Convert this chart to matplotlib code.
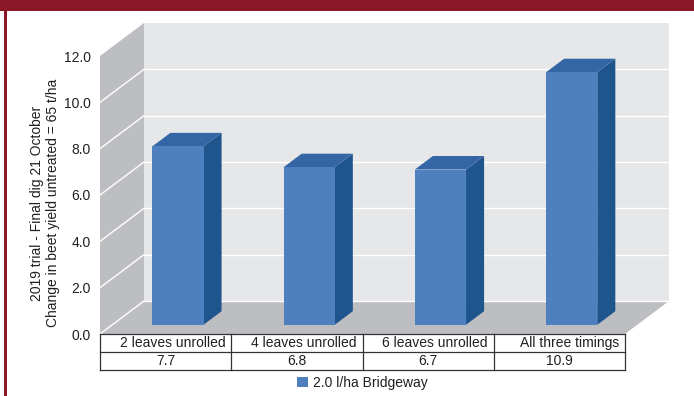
import numpy as np
import matplotlib.pyplot as plt
from matplotlib.patches import Polygon, Rectangle, Patch
from matplotlib.transforms import blended_transform_factory

plt.rcParams["font.family"] = ["Liberation Sans", "DejaVu Sans"]

categories = ["2 leaves unrolled", "4 leaves unrolled", "6 leaves unrolled", "All three timings"]
yield_change = [7.7, 6.8, 6.7, 10.9]
series_name = "2.0 l/ha Bridgeway"
y_ticks = [0, 2, 4, 6, 8, 10, 12]
y_label = "2019 trial - Final dig 21 October\nChange in beet yield untreated = 65 t/ha"

BACK_WALL = "#e6e7e8"
SIDE_WALL = "#bdbec1"
BAR_FRONT = "#4e80c0"
BAR_TOP = "#3465a5"
BAR_SIDE = "#1f558d"
FRAME_RED = "#8b1626"
TEXT = "#231f20"

W, H = 694, 396
fig = plt.figure(figsize=(W / 100, H / 100), dpi=100)

# front plane of the 3-D box, in pixels
left, right, bottom, top = 100, 625, 334, 56
ax = fig.add_axes([left / W, 1 - bottom / H, (right - left) / W, (bottom - top) / H])
ax.set_xlim(-0.5, len(categories) - 0.5)
ax.set_ylim(0, 12)
ax.patch.set_visible(False)
for s in ax.spines.values():
    s.set_visible(False)

# depth offset of the box (44 px right, 33 px up) in data units
px_x = (right - left) / len(categories)
px_y = (bottom - top) / 12
DX = 44 / px_x
DY = 33 / px_y


def proj(x, y, d):
    return (x + d * DX, y + d * DY)


def face(pts, color, z):
    ax.add_patch(Polygon([proj(*p) for p in pts], closed=True, facecolor=color,
                         edgecolor="none", clip_on=False, zorder=z))


x0, x1 = -0.5, len(categories) - 0.5
ymax = y_ticks[-1]

# walls and floor
face([(x0, 0, 1), (x1, 0, 1), (x1, ymax, 1), (x0, ymax, 1)], BACK_WALL, 1)
face([(x0, 0, 0), (x0, 0, 1), (x0, ymax, 1), (x0, ymax, 0)], SIDE_WALL, 1)
face([(x0, 0, 0), (x1, 0, 0), (x1, 0, 1), (x0, 0, 1)], SIDE_WALL, 1)

# gridlines on the back and left walls
for t in y_ticks[:-1]:
    xs, ys = zip(proj(x0, t, 1), proj(x1, t, 1))
    ax.plot(xs, ys, color="white", lw=1, clip_on=False, zorder=2)
    xs, ys = zip(proj(x0, t, 0), proj(x0, t, 1))
    ax.plot(xs, ys, color="white", lw=1, clip_on=False, zorder=2)

# 3-D columns
bw = 0.39
d0, d1 = 0.28, 0.69
for i, v in enumerate(yield_change):
    a, b = i - bw / 2, i + bw / 2
    face([(b, 0, d0), (b, 0, d1), (b, v, d1), (b, v, d0)], BAR_SIDE, 3)
    face([(a, v, d0), (b, v, d0), (b, v, d1), (a, v, d1)], BAR_TOP, 3)
    face([(a, 0, d0), (b, 0, d0), (b, v, d0), (a, v, d0)], BAR_FRONT, 4)

ax.set_xticks([])
ax.set_yticks(y_ticks)
ax.set_yticklabels([f"{t:.1f}" for t in y_ticks])
ax.tick_params(axis="y", length=0, pad=6.5, labelsize=10, labelcolor=TEXT)

# data table under the chart
trans = blended_transform_factory(ax.transData, ax.transAxes)
row_h = 18 / (bottom - top)
line_kw = dict(color="#333333", lw=0.9, transform=trans, clip_on=False, zorder=5)
for r in range(3):
    ax.plot([x0, x1], [-r * row_h, -r * row_h], **line_kw)
for k in range(len(categories) + 1):
    ax.plot([k - 0.5, k - 0.5], [0, -2 * row_h], **line_kw)
for i, (cat, v) in enumerate(zip(categories, yield_change)):
    ax.text(i + 0.5 - 0.045, -0.5 * row_h, cat, transform=trans, ha="right", va="center",
            fontsize=10, color=TEXT)
    ax.text(i, -1.5 * row_h, f"{v:.1f}", transform=trans, ha="center", va="center",
            fontsize=10, color=TEXT)

fig.legend(handles=[Patch(facecolor=BAR_FRONT, edgecolor="none", label=series_name)],
           loc="center", bbox_to_anchor=((left + right) / 2 / W, 1 - 383 / H),
           frameon=False, fontsize=10, handlelength=0.75, handleheight=0.75,
           handletextpad=0.4, labelcolor=TEXT)

fig.text(45 / W, 1 - 203 / H, y_label, rotation=90, ha="center", va="center",
         multialignment="center", fontsize=10, color=TEXT, linespacing=1.15)

# red frame: band across the top and a thin rule down the left
fig.patches.append(Rectangle((0, 1 - 10.5 / H), 1, 10.5 / H, transform=fig.transFigure,
                             facecolor=FRAME_RED, edgecolor="none", figure=fig))
fig.patches.append(Rectangle((4 / W, 0), 2.5 / W, 1, transform=fig.transFigure,
                             facecolor=FRAME_RED, edgecolor="none", figure=fig))

fig.savefig("out.png", dpi=100)
